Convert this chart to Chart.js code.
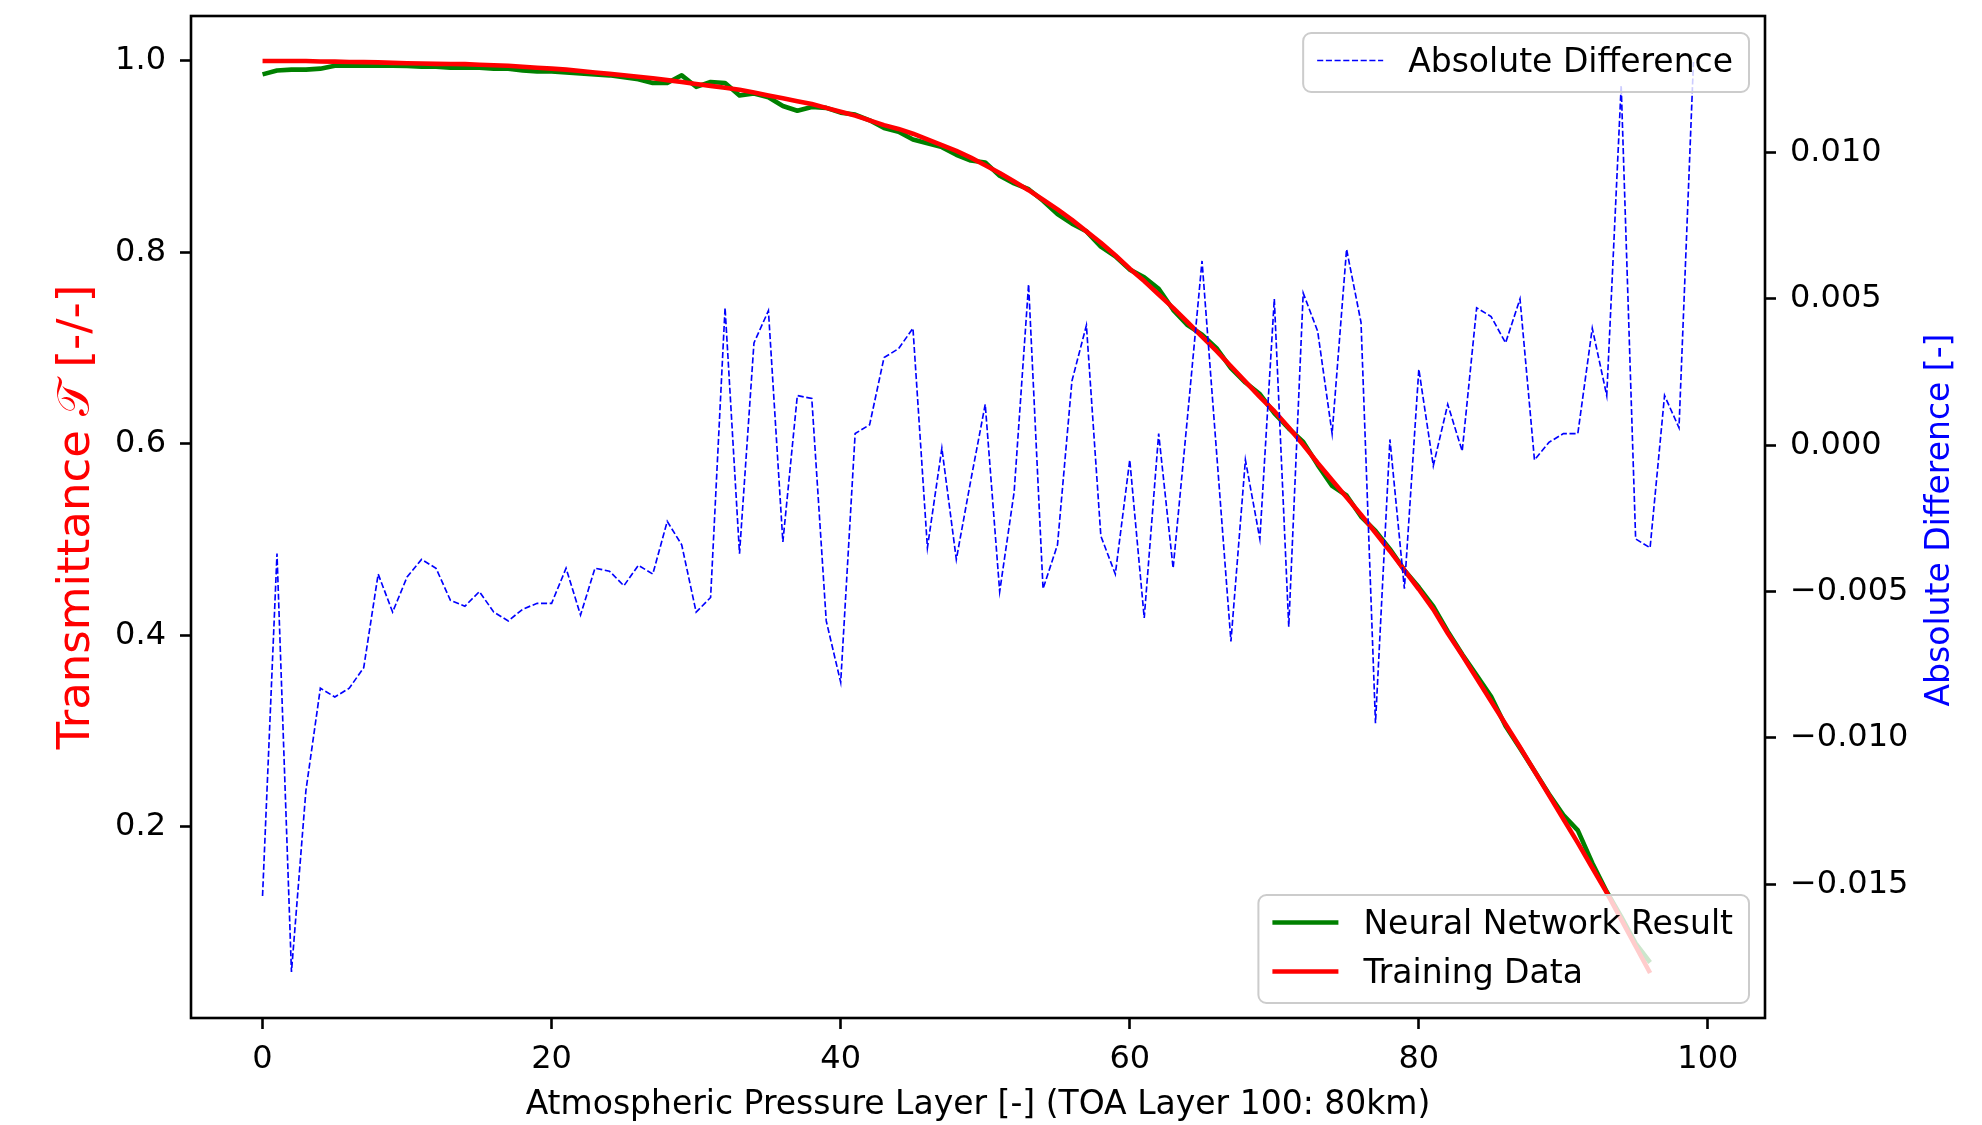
<!DOCTYPE html>
<html lang="en">
<head>
<meta charset="UTF-8">
<title>Transmittance vs Atmospheric Pressure Layer</title>
<script src="https://cdn.jsdelivr.net/npm/chart.js@4.4.1/dist/chart.umd.min.js"></script>
<style>
    html, body { margin: 0; padding: 0; background: #fff; }
    #wrap { width: 1982px; height: 1125px; }
</style>
</head>
<body>
<div id="wrap"><canvas id="chart" width="1982" height="1125"></canvas></div>
<script>
// --- data ---
const layers = [
    0, 1, 2, 3, 4, 5, 6, 7, 8, 9, 10, 11, 12, 13, 14, 15, 16, 17, 18, 19,
    20, 21, 22, 23, 24, 25, 26, 27, 28, 29, 30, 31, 32, 33, 34, 35, 36, 37, 38, 39,
    40, 41, 42, 43, 44, 45, 46, 47, 48, 49, 50, 51, 52, 53, 54, 55, 56, 57, 58, 59,
    60, 61, 62, 63, 64, 65, 66, 67, 68, 69, 70, 71, 72, 73, 74, 75, 76, 77, 78, 79,
    80, 81, 82, 83, 84, 85, 86, 87, 88, 89, 90, 91, 92, 93, 94, 95, 96, 97, 98, 99
];

// red curve (layers 0..96)
const trainingData = [
    1.000, 1.000, 1.000, 1.000, 0.9995, 0.9993, 0.999, 0.9988, 0.9985, 0.998,
    0.9977, 0.9973, 0.997, 0.9968, 0.9967, 0.996, 0.9955, 0.995, 0.994, 0.993,
    0.992, 0.991, 0.9895, 0.988, 0.9865, 0.985, 0.9835, 0.982, 0.980, 0.978,
    0.976, 0.974, 0.972, 0.970, 0.967, 0.964, 0.961, 0.958, 0.955, 0.951,
    0.947, 0.943, 0.938, 0.933, 0.929, 0.924, 0.918, 0.912, 0.906, 0.899,
    0.891, 0.883, 0.874, 0.865, 0.855, 0.845, 0.834, 0.822, 0.810, 0.797,
    0.783, 0.770, 0.756, 0.742, 0.727, 0.712, 0.697, 0.681, 0.665, 0.649,
    0.634, 0.617, 0.599, 0.580, 0.562, 0.544, 0.526, 0.507, 0.488, 0.468,
    0.448, 0.427, 0.402, 0.379, 0.355, 0.331, 0.307, 0.283, 0.258, 0.233,
    0.208, 0.183, 0.157, 0.131, 0.103, 0.075, 0.047
];

// green curve (layers 0..96)
const networkResult = [
    0.986, 0.990, 0.991, 0.991, 0.992, 0.995, 0.995, 0.995, 0.995, 0.995,
    0.9948, 0.994, 0.994, 0.993, 0.993, 0.993, 0.992, 0.992, 0.990, 0.989,
    0.989, 0.988, 0.987, 0.986, 0.985, 0.983, 0.981, 0.977, 0.977, 0.985,
    0.973, 0.978, 0.977, 0.964, 0.966, 0.962, 0.953, 0.948, 0.952, 0.951,
    0.946, 0.944, 0.938, 0.930, 0.926, 0.918, 0.914, 0.910, 0.902, 0.896,
    0.894, 0.880, 0.872, 0.866, 0.854, 0.840, 0.830, 0.822, 0.806, 0.796,
    0.782, 0.774, 0.762, 0.740, 0.724, 0.714, 0.700, 0.679, 0.664, 0.652,
    0.632, 0.616, 0.602, 0.578, 0.556, 0.546, 0.524, 0.509, 0.490, 0.468,
    0.450, 0.430, 0.404, 0.380, 0.358, 0.336, 0.305, 0.282, 0.258, 0.234,
    0.212, 0.196, 0.162, 0.132, 0.106, 0.078, 0.058
];

// blue dashed curve, right axis (layers 0..99)
const absDifference = [
    -0.0154, -0.0037, -0.0180, -0.0118, -0.0083, -0.0086, -0.0083, -0.0076, -0.0044, -0.0057,
    -0.0045, -0.0039, -0.0042, -0.0053, -0.0055, -0.0050, -0.0057, -0.0060, -0.0056, -0.0054,
    -0.0054, -0.0042, -0.0058, -0.0042, -0.0043, -0.0048, -0.0041, -0.0044, -0.0026, -0.0034,
    -0.0057, -0.0052, 0.0047, -0.0037, 0.0035, 0.0046, -0.0033, 0.0017, 0.0016, -0.0060,
    -0.0081, 0.0004, 0.0007, 0.0030, 0.0033, 0.0040, -0.0035, -0.0001, -0.0039, -0.0012,
    0.0014, -0.0050, -0.0016, 0.0055, -0.0049, -0.0034, 0.0022, 0.0041, -0.0031, -0.0044,
    -0.0005, -0.0059, 0.0004, -0.0042, 0.0010, 0.0063, -0.0002, -0.0067, -0.0005, -0.0032,
    0.0050, -0.0062, 0.0052, 0.0039, 0.0004, 0.0067, 0.0042, -0.0095, 0.0002, -0.0049,
    0.0026, -0.0007, 0.0014, -0.0002, 0.0047, 0.0044, 0.0035, 0.0050, -0.0005, 0.0001,
    0.0004, 0.0004, 0.0040, 0.0017, 0.0123, -0.0032, -0.0035, 0.0017, 0.0006, 0.0131
];

const xTicks = [0, 20, 40, 60, 80, 100];
const xTickLabels = ['0', '20', '40', '60', '80', '100'];
const leftTicks = [0.2, 0.4, 0.6, 0.8, 1.0];
const leftTickLabels = ['0.2', '0.4', '0.6', '0.8', '1.0'];
const rightTicks = [-0.015, -0.010, -0.005, 0.000, 0.005, 0.010];
const rightTickLabels = ['\u22120.015', '\u22120.010', '\u22120.005', '0.000', '0.005', '0.010'];

const xTitle = 'Atmospheric Pressure Layer [-] (TOA Layer 100: 80km)';
const leftTitle = 'Transmittance \u{1D4AF} [-/-]';
const rightTitle = 'Absolute Difference [-]';

const FONT = "'DejaVu Sans', 'Liberation Sans', sans-serif";

// axes frame (matplotlib style spines)
const framePlugin = {
    id: 'frame',
    afterDatasetsDraw(chart) {
        const { ctx, chartArea: a } = chart;
        ctx.save();
        ctx.strokeStyle = '#000';
        ctx.lineWidth = 2.6;
        ctx.strokeRect(a.left, a.top, a.right - a.left, a.bottom - a.top);
        ctx.restore();
    }
};

function roundedBox(ctx, x, y, w, h, r) {
    ctx.beginPath();
    ctx.moveTo(x + r, y);
    ctx.lineTo(x + w - r, y);
    ctx.arcTo(x + w, y, x + w, y + r, r);
    ctx.lineTo(x + w, y + h - r);
    ctx.arcTo(x + w, y + h, x + w - r, y + h, r);
    ctx.lineTo(x + r, y + h);
    ctx.arcTo(x, y + h, x, y + h - r, r);
    ctx.lineTo(x, y + r);
    ctx.arcTo(x, y, x + r, y, r);
    ctx.closePath();
}

function drawLegendBox(chart, indices, where) {
    const { ctx, chartArea: a } = chart;
    const ds = chart.data.datasets;
    ctx.save();
    ctx.font = '33px ' + FONT;
    const textW = Math.max(...indices.map(i => ctx.measureText(ds[i].label).width));
    const w = 14 + 66 + 25 + textW + 16;
    const h = 39 + 49 * (indices.length - 1) + 20;
    const x = a.right - 16 - w;
    const y = where === 'top' ? a.top + 17 : a.bottom - 15 - h;
    roundedBox(ctx, x, y, w, h, 8);
    ctx.fillStyle = 'rgba(255,255,255,0.8)';
    ctx.fill();
    ctx.strokeStyle = '#cccccc';
    ctx.lineWidth = 2;
    ctx.stroke();
    indices.forEach((i, k) => {
        const base = y + 39 + 49 * k;
        ctx.beginPath();
        ctx.strokeStyle = ds[i].borderColor;
        ctx.lineWidth = ds[i].borderWidth;
        ctx.setLineDash(ds[i].borderDash || []);
        ctx.moveTo(x + 14, base - 11.5);
        ctx.lineTo(x + 80, base - 11.5);
        ctx.stroke();
        ctx.setLineDash([]);
        ctx.fillStyle = '#000';
        ctx.textBaseline = 'alphabetic';
        ctx.textAlign = 'left';
        ctx.fillText(ds[i].label, x + 105, base);
    });
    ctx.restore();
}

const legendPlugin = {
    id: 'twoLegends',
    afterDraw(chart) {
        drawLegendBox(chart, [0], 'top');
        drawLegendBox(chart, [2, 1], 'bottom');
        // right axis title reads bottom-to-top like matplotlib
        const { ctx, chartArea: a } = chart;
        ctx.save();
        ctx.font = '33px ' + FONT;
        ctx.fillStyle = '#0000ff';
        ctx.textAlign = 'center';
        ctx.textBaseline = 'alphabetic';
        ctx.translate(1949, (a.top + a.bottom) / 2 + 3);
        ctx.rotate(-Math.PI / 2);
        ctx.fillText(rightTitle, 0, 0);
        ctx.restore();
    }
};

const tickFont = { family: FONT, size: 32 };

// no label overhang padding, the plot box is placed by hand
function fixVertical(width) {
    return s => { s.width = width; s.paddingTop = 0; s.paddingBottom = 0; };
}

new Chart(document.getElementById('chart'), {
    type: 'line',
    data: {
        labels: layers,
        datasets: [
            {
                label: 'Absolute Difference',
                data: absDifference,
                yAxisID: 'y2',
                borderColor: '#0000ff',
                borderWidth: 1.65,
                borderDash: [6.1, 2.6],
                pointRadius: 0,
                tension: 0,
                fill: false,
                order: 0
            },
            {
                label: 'Training Data',
                data: trainingData,
                yAxisID: 'y',
                borderColor: '#ff0000',
                borderWidth: 4.6,
                borderJoinStyle: 'round',
                pointRadius: 0,
                tension: 0,
                fill: false,
                order: 1
            },
            {
                label: 'Neural Network Result',
                data: networkResult,
                yAxisID: 'y',
                borderColor: '#008000',
                borderWidth: 4.6,
                borderJoinStyle: 'round',
                pointRadius: 0,
                tension: 0,
                fill: false,
                order: 2
            }
        ]
    },
    options: {
        responsive: false,
        animation: false,
        devicePixelRatio: 1,
        layout: { padding: { top: 16, left: 0, right: 0, bottom: 0 } },
        plugins: {
            legend: { display: false },
            tooltip: { enabled: false }
        },
        scales: {
            x: {
                type: 'linear',
                position: 'bottom',
                min: -4.95,
                max: 103.95,
                afterBuildTicks: s => { s.ticks = xTicks.map(v => ({ value: v })); },
                afterFit: s => { s.height = 107; s.paddingLeft = 0; s.paddingRight = 0; },
                grid: { drawOnChartArea: false, tickLength: 11, tickWidth: 2.6, tickColor: '#000' },
                border: { display: false },
                ticks: {
                    autoSkip: false, maxRotation: 0, padding: 11, color: '#000', font: tickFont,
                    callback: (v, i) => xTickLabels[i]
                },
                title: {
                    display: true, text: xTitle, color: '#000',
                    font: { family: FONT, size: 33 },
                    padding: { top: 0, bottom: 0 }
                }
            },
            y: {
                type: 'linear',
                position: 'left',
                min: 0,
                max: 1.047,
                afterBuildTicks: s => { s.ticks = leftTicks.map(v => ({ value: v })); },
                afterFit: fixVertical(191),
                grid: { drawOnChartArea: false, tickLength: 11, tickWidth: 2.6, tickColor: '#000' },
                border: { display: false },
                ticks: {
                    autoSkip: false, padding: 14, color: '#000', font: tickFont,
                    callback: (v, i) => leftTickLabels[i]
                },
                title: {
                    display: true, text: leftTitle, color: '#ff0000',
                    font: { family: FONT, size: 45 },
                    padding: { top: 50, bottom: 0 }
                }
            },
            y2: {
                type: 'linear',
                position: 'right',
                min: -0.01957,
                max: 0.01467,
                afterBuildTicks: s => { s.ticks = rightTicks.map(v => ({ value: v })); },
                afterFit: fixVertical(217),
                grid: { drawOnChartArea: false, tickLength: 11, tickWidth: 2.6, tickColor: '#000' },
                border: { display: false },
                ticks: {
                    autoSkip: false, padding: 14, color: '#000', font: tickFont,
                    callback: (v, i) => rightTickLabels[i]
                },
                title: { display: false }
            }
        }
    },
    plugins: [framePlugin, legendPlugin]
});
</script>
</body>
</html>
